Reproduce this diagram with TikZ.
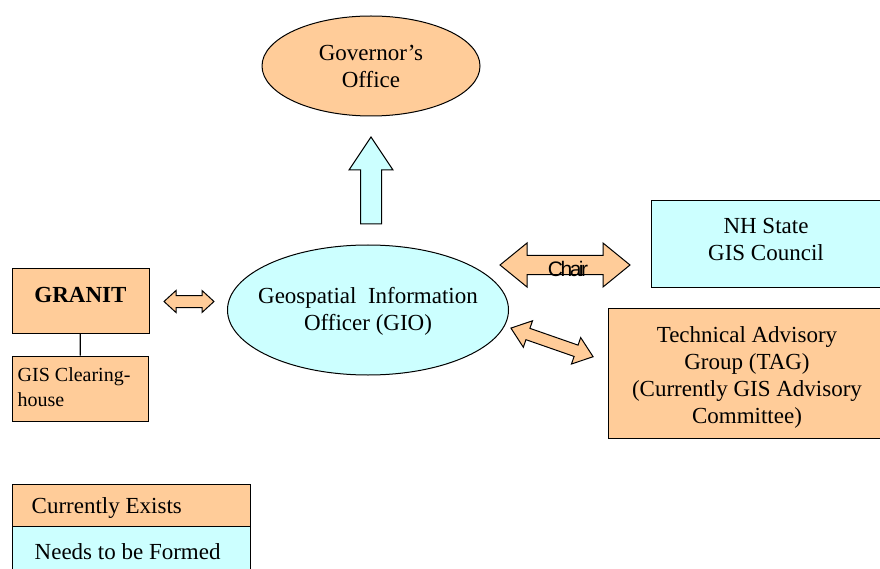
\documentclass[tikz,border=0pt]{standalone}
\usepackage{fontspec}
\setmainfont{Liberation Serif}
\newfontfamily\chairfont[LetterSpace=-12]{Liberation Sans}
\usetikzlibrary{shapes.geometric}
\definecolor{peach}{HTML}{FFCC99}
\definecolor{paleblue}{HTML}{CCFFFF}

\begin{document}
\begin{tikzpicture}
  [x=1pt, y=-1pt,
   oval/.style={ellipse, draw, line width=1pt, inner sep=0},
   otext/.style={align=center, font=\fontsize{23}{27}\selectfont},
   rbox/.style={rectangle, draw, line width=1pt, inner sep=0},
   ltext/.style={anchor=west, xshift=20pt, yshift=-3pt, inner sep=0, font=\fontsize{23}{27}\selectfont},
   barrow/.style={draw, line width=1pt, fill=peach, line join=miter}]
  \useasboundingbox (0,0) rectangle (880,569);

  \node[oval, fill=peach, minimum width=218pt, minimum height=100pt,
        label={[otext]center:Governor’s\\Office}] (gov) at (371,66) {};
  \node[oval, fill=paleblue, minimum width=281pt, minimum height=130pt,
        label={[otext, yshift=-1pt]center:Geospatial\ \ Information\\Officer (GIO)}] (gio) at (368,310) {};

  \node[rbox, fill=paleblue, minimum width=230pt, minimum height=86pt,
        label={[otext, yshift=4.5pt]center:NH State\\GIS Council}] (council) at (766,244) {};
  \node[rbox, fill=peach, minimum width=278pt, minimum height=130pt,
        label={[otext, yshift=-4pt]center:Technical Advisory\\Group (TAG)\\(Currently GIS Advisory\\Committee)}] (tag) at (747,373) {};

  \node[rbox, fill=peach, minimum width=137pt, minimum height=65pt,
        label={[otext, yshift=6pt, font=\fontsize{23}{27}\selectfont\bfseries]center:GRANIT}] (granit) at (80.5,300.5) {};
  \node[rbox, fill=peach, minimum width=136pt, minimum height=65pt,
        label={[anchor=west, xshift=6pt, yshift=1.5pt, inner sep=0, align=left, font=\fontsize{20}{25}\selectfont]west:GIS Clearing-\\house}] (clear) at (80,388.5) {}
        edge [line width=1.3pt] (granit);

  % block arrows
  \draw[barrow, fill=paleblue] (371,137) -- (393,170) -- (381.5,170) -- (381.5,224)
    -- (360.5,224) -- (360.5,170) -- (349,170) -- cycle;
  \begin{scope}[shift={(565,265)}]
    \draw[barrow] (-65,0) -- (-38,-22) -- (-38,-9.5) -- (38,-9.5) -- (38,-22) -- (65,0)
      -- (38,22) -- (38,9.5) -- (-38,9.5) -- (-38,22) -- cycle;
  \end{scope}
  \node[font=\chairfont\fontsize{21}{21}\selectfont, inner sep=0] (chair) at (568,269) {Chair};
  \begin{scope}[shift={(189,301.5)}]
    \draw[barrow] (-25,0) -- (-13,-11) -- (-13,-6) -- (13,-6) -- (13,-11) -- (25,0)
      -- (13,11) -- (13,6) -- (-13,6) -- (-13,11) -- cycle;
  \end{scope}
  \begin{scope}[shift={(552,342.4)}, rotate=-19.2]
    \draw[barrow] (-43.5,0) -- (-25.5,-14) -- (-25.5,-6) -- (25.5,-6) -- (25.5,-14) -- (43.5,0)
      -- (25.5,14) -- (25.5,6) -- (-25.5,6) -- (-25.5,14) -- cycle;
  \end{scope}

  % legend
  \node[rbox, fill=peach, minimum width=238pt, minimum height=42pt,
        label={[ltext]west:Currently Exists}] (exists) at (131,505) {};
  \node[rbox, fill=paleblue, minimum width=238pt, minimum height=50pt,
        label={[ltext, xshift=3pt, yshift=2pt]west:Needs to be Formed}] (formed) at (131,551) {};
\end{tikzpicture}
\end{document}
